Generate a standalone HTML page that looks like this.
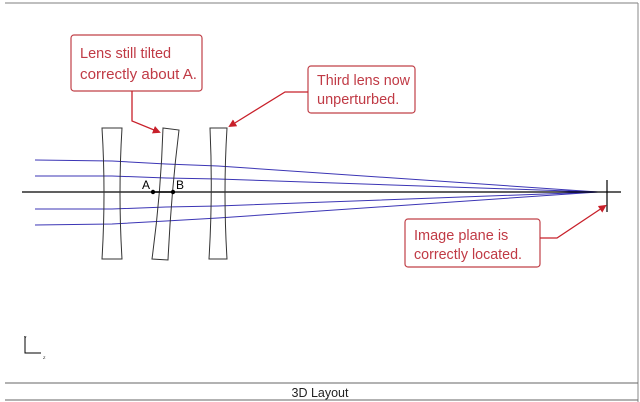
<!DOCTYPE html>
<html><head><meta charset="utf-8"><style>
html,body{margin:0;padding:0;background:#fff;width:640px;height:402px;overflow:hidden}
svg{display:block}
</style></head><body>
<svg width="640" height="402" viewBox="0 0 640 402" xmlns="http://www.w3.org/2000/svg" font-family="Liberation Sans, sans-serif">
<defs><marker id="ar" markerWidth="8" markerHeight="8" refX="6" refY="4" orient="auto" markerUnits="userSpaceOnUse"><path d="M0,0 L8,4 L0,8 Z" fill="#c8202a"/></marker></defs>
<line x1="5" y1="3" x2="638" y2="3" stroke="#999" stroke-width="1.2"/>
<line x1="638" y1="3" x2="638" y2="402" stroke="#888" stroke-width="1"/>
<line x1="5" y1="383" x2="638" y2="383" stroke="#666" stroke-width="1"/>
<line x1="5" y1="400" x2="638" y2="400" stroke="#666" stroke-width="1"/>
<text x="320" y="397" font-size="12.5" text-anchor="middle" fill="#222">3D Layout</text>
<path d="M25,336 V353 H41" fill="none" stroke="#000" stroke-width="1"/>
<text x="24" y="339" font-size="4" fill="#000">Y</text>
<text x="43" y="359" font-size="4" fill="#000">Z</text>
<g stroke="#3b35b5" stroke-width="1" fill="none">
<path d="M35,160 L112,161 L166,164 L218,166 L598,192"/>
<path d="M35,176 L112,176 L166,178 L218,179 L598,192"/>
<path d="M35,209 L112,209 L166,207 L218,206 L598,192"/>
<path d="M35,225 L112,224 L166,221 L218,218 L598,192"/>
</g>
<line x1="22" y1="192" x2="621" y2="192" stroke="#000" stroke-width="1.2"/>
<line x1="607" y1="180" x2="607" y2="212" stroke="#000" stroke-width="1.2"/>
<g fill="none" stroke="#333" stroke-width="1">
<path d="M102,128 H122 Q118,193 122,259 H102 Q106,193 102,128 Z"/>
<path d="M163,128 L179,130 Q171,195 168,260 L152,259 Q161,193 163,128 Z"/>
<path d="M210,128 H227 Q223,193 227,259 H209 Q213,193 210,128 Z"/>
</g>
<line x1="153" y1="192" x2="173" y2="192" stroke="#000" stroke-width="1.5"/>
<circle cx="153" cy="192" r="2.2" fill="#000"/><circle cx="173" cy="192" r="2.2" fill="#000"/>
<text x="142" y="189" font-size="12" fill="#000">A</text>
<text x="176" y="189" font-size="12" fill="#000">B</text>
<g fill="#fff" stroke="#c04048" stroke-width="1.2">
<rect x="71" y="35" width="131" height="56" rx="3"/>
<rect x="308" y="66" width="107" height="47" rx="3"/>
<rect x="405" y="219" width="135" height="48" rx="3"/>
</g>
<g fill="none" stroke="#c8202a" stroke-width="1.3">
<path d="M132,91 V121 L159,132" marker-end="url(#ar)"/>
<path d="M308,92 H285 L230,126" marker-end="url(#ar)"/>
<path d="M540,238 H557 L605,206" marker-end="url(#ar)"/>
</g>
<g fill="#c03a45" font-size="14.5">
<text x="80" y="58">Lens still tilted</text>
<text x="80" y="79" textLength="117" lengthAdjust="spacingAndGlyphs">correctly about A.</text>
<text x="317" y="85" textLength="93" lengthAdjust="spacingAndGlyphs">Third lens now</text>
<text x="317" y="104">unperturbed.</text>
<text x="414" y="240">Image plane is</text>
<text x="414" y="259" textLength="108" lengthAdjust="spacingAndGlyphs">correctly located.</text>
</g>
</svg>
</body></html>
